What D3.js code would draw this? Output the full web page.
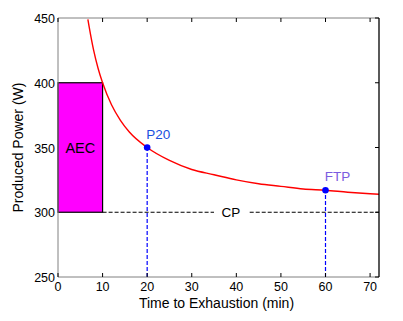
<!DOCTYPE html>
<html>
<head>
<meta charset="utf-8">
<script src="https://cdn.jsdelivr.net/npm/d3@7"></script>
<style>
  body { margin: 0; background: #fff; }
  text { font-family: "Liberation Sans", Arial, sans-serif; }
</style>
</head>
<body>
<div class="chart"></div>
<script>
// power-duration curve
var curveT = [6.7, 7, 8, 9, 10, 12, 14, 16, 20, 25, 30, 35, 40, 45, 50, 55, 60, 65, 70, 72];
var curveP = [449, 443, 425, 411, 400, 383, 371, 362, 350, 340, 333, 329, 325, 322, 320, 318, 317, 315.5, 314.3, 313.9];

var cpValue = 300;
var aecBox = [0, 10, 300, 400];   // t0, t1, p0, p1
var markT = [20, 60];
var markP = [350, 317];
var markLabels = ["P20", "FTP"];
var xTicks = [0, 10, 20, 30, 40, 50, 60, 70];
var yTicks = [250, 300, 350, 400, 450];

var margin = { top: 18, right: 24, bottom: 44, left: 58 };
var W = 403, H = 321;
var width = W - margin.left - margin.right;
var height = H - margin.top - margin.bottom;

var svg = d3.select(".chart").append("svg")
    .attr("width", W).attr("height", H);
var g = svg.append("g")
    .attr("transform", "translate(" + margin.left + "," + margin.top + ")");

var x = d3.scaleLinear().domain([0, 72]).range([0, width]);
var y = d3.scaleLinear().domain([250, 450]).range([height, 0]);

svg.append("clipPath").attr("id", "clip")
  .append("rect").attr("width", width).attr("height", height);

// AEC box
g.append("rect")
    .attr("x", x(aecBox[0])).attr("y", y(aecBox[3]))
    .attr("width", x(aecBox[1]) - x(aecBox[0]))
    .attr("height", y(aecBox[2]) - y(aecBox[3]))
    .style("fill", "#ff00ff").style("stroke", "#000").style("stroke-width", 1.2);
g.append("text")
    .attr("x", x((aecBox[0] + aecBox[1]) / 2)).attr("y", y(350) + 5)
    .attr("text-anchor", "middle").style("font-size", "14.5px")
    .text("AEC");

// CP dashed line with a gap for the label
var cpSegs = [[aecBox[1], 35], [43, 72]];
cpSegs.forEach(function(s) {
    g.append("line")
        .attr("x1", x(s[0])).attr("x2", x(s[1]))
        .attr("y1", y(cpValue)).attr("y2", y(cpValue))
        .style("stroke", "#000").style("stroke-width", 1.2)
        .style("stroke-dasharray", "4,2");
});
g.append("text")
    .attr("x", x(38.8)).attr("y", y(cpValue) + 5)
    .attr("text-anchor", "middle").style("font-size", "13.5px")
    .text("CP");

// blue dashed drop lines
markT.forEach(function(t, i) {
    g.append("line")
        .attr("x1", x(t)).attr("x2", x(t))
        .attr("y1", y(250)).attr("y2", y(markP[i]))
        .style("stroke", "#0000ff").style("stroke-width", 1.2)
        .style("stroke-dasharray", "4,2");
});

// red curve
var pts = curveT.map(function(t, i) { return [t, curveP[i]]; });
g.append("path")
    .datum(pts)
    .attr("clip-path", "url(#clip)")
    .attr("d", d3.line()
        .x(function(d) { return x(d[0]); })
        .y(function(d) { return y(d[1]); })
        .curve(d3.curveMonotoneX))
    .style("fill", "none").style("stroke", "#ff0000").style("stroke-width", 1.4);

// points + labels
var labelColors = ["#1a4fe0", "#7a5ce0"];
markT.forEach(function(t, i) {
    g.append("circle")
        .attr("cx", x(t)).attr("cy", y(markP[i])).attr("r", 3.3)
        .style("fill", "#0000ff");
    g.append("text")
        .attr("x", x(t) + (i === 1 ? 12 : 11)).attr("y", y(markP[i]) - 9)
        .attr("text-anchor", "middle").style("font-size", "13.5px")
        .style("fill", labelColors[i])
        .text(markLabels[i]);
});

// frame
g.append("line").attr("x1", 0).attr("x2", width).attr("y1", 0).attr("y2", 0)
    .style("stroke", "#808080");
g.append("line").attr("x1", 0).attr("x2", 0).attr("y1", 0).attr("y2", height)
    .style("stroke", "#808080");
g.append("line").attr("x1", 0).attr("x2", width).attr("y1", height).attr("y2", height)
    .style("stroke", "#808080");
g.append("line").attr("x1", width).attr("x2", width).attr("y1", 0).attr("y2", height)
    .style("stroke", "#000").style("stroke-width", 1.3);

// inward ticks
xTicks.forEach(function(t) {
    g.append("line").attr("x1", x(t)).attr("x2", x(t)).attr("y1", 0).attr("y2", 4)
        .style("stroke", "#000");
    g.append("line").attr("x1", x(t)).attr("x2", x(t)).attr("y1", height).attr("y2", height - 4)
        .style("stroke", "#000");
    g.append("text")
        .attr("x", x(t)).attr("y", height + 14)
        .attr("text-anchor", "middle").style("font-size", "12.5px")
        .text(t);
});
yTicks.forEach(function(v) {
    g.append("line").attr("x1", width).attr("x2", width - 4).attr("y1", y(v)).attr("y2", y(v))
        .style("stroke", "#000");
    g.append("text")
        .attr("x", -3).attr("y", y(v) + 5)
        .attr("text-anchor", "end").style("font-size", "12.5px")
        .text(v);
});

// axis titles
g.append("text")
    .attr("x", width / 2 - 2).attr("y", height + 31)
    .attr("text-anchor", "middle").style("font-size", "14px")
    .text("Time to Exhaustion (min)");
g.append("text")
    .attr("transform", "translate(" + (-35) + "," + (height / 2) + ") rotate(-90)")
    .attr("text-anchor", "middle").style("font-size", "14px")
    .text("Produced Power (W)");
</script>
</body>
</html>
